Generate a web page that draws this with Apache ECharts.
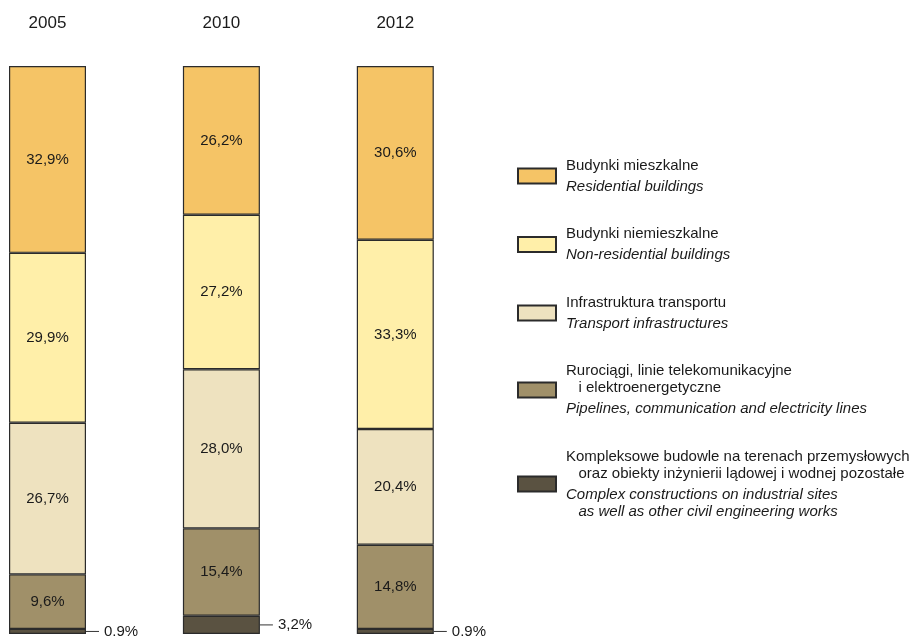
<!DOCTYPE html>
<html>
<head>
<meta charset="utf-8">
<script src="https://cdn.jsdelivr.net/npm/echarts@6/dist/echarts.min.js"></script>
<style>html,body{margin:0;padding:0;background:#fff;}#c{width:918px;height:637px;}</style>
</head>
<body>
<div id="c"></div>
<script>
var years = ['2005', '2010', '2012'];
var residential = [32.9, 26.2, 30.6];
var nonResidential = [29.9, 27.2, 33.3];
var transport = [26.7, 28.0, 20.4];
var pipelines = [9.6, 15.4, 14.8];
var complexWorks = [0.9, 3.2, 0.9];
var complexLabels = ['0.9%', '3,2%', '0.9%'];

var seriesNames = ['Budynki mieszkalne', 'Budynki niemieszkalne', 'Infrastruktura transportu', 'Rurociągi', 'Kompleksowe'];
var legendTexts = {
  'Budynki mieszkalne': '{pl|Budynki mieszkalne}\n{gap| }\n{en|Residential buildings}',
  'Budynki niemieszkalne': '{pl|Budynki niemieszkalne}\n{gap| }\n{en|Non-residential buildings}',
  'Infrastruktura transportu': '{pl|Infrastruktura transportu}\n{gap| }\n{en|Transport infrastructures}',
  'Rurociągi': '{pl|Rurociągi, linie telekomunikacyjne}\n{pl|   i elektroenergetyczne}\n{gap| }\n{en|Pipelines, communication and electricity lines}',
  'Kompleksowe': '{pl|Kompleksowe budowle na terenach przemysłowych}\n{pl|   oraz obiekty inżynierii lądowej i wodnej pozostałe}\n{gap| }\n{en|Complex constructions on industrial sites}\n{en|   as well as other civil engineering works}'
};
var colors = ['#F5C466', '#FFEFA9', '#EEE2BF', '#A09069', '#5A5241'];

var FONT = 'Liberation Sans, Arial, sans-serif';
var chart = echarts.init(document.getElementById('c'), null, {renderer: 'canvas'});

function inside(p) { return Number(p.value).toFixed(1).replace('.', ',') + '%'; }

function mk(name, data, color) {
  return {
    name: name, type: 'bar', stack: 'a', data: data, barWidth: 77, clip: false,
    itemStyle: {color: color, borderColor: '#2b2b2b', borderWidth: 1.2},
    label: {show: true, position: 'inside', fontFamily: FONT, fontSize: 15, color: '#1a1a1a', formatter: inside},
    emphasis: {disabled: true}
  };
}

var series = [
  {
    name: seriesNames[4], type: 'bar', stack: 'a', data: complexWorks, barWidth: 77, clip: false,
    itemStyle: {color: colors[4], borderColor: '#2b2b2b', borderWidth: 1.2},
    label: {
      show: true, position: 'right', distance: 0,
      formatter: function (p) { return '{ln|}{t|' + complexLabels[p.dataIndex] + '}'; },
      rich: {
        ln: {width: 13, height: 1, backgroundColor: '#333'},
        t: {fontFamily: FONT, fontSize: 15, color: '#1a1a1a', padding: [0, 0, 0, 5]}
      }
    },
    emphasis: {disabled: true}
  },
  mk(seriesNames[3], pipelines, colors[3]),
  mk(seriesNames[2], transport, colors[2]),
  mk(seriesNames[1], nonResidential, colors[1]),
  mk(seriesNames[0], residential, colors[0])
];

chart.setOption({
  animation: false,
  grid: {left: 47.5, width: 347.8, top: 66, bottom: 3},
  xAxis: {
    type: 'category', data: years, position: 'top', boundaryGap: false,
    axisLine: {show: false}, axisTick: {show: false}, splitLine: {show: false},
    axisLabel: {margin: 34, fontFamily: FONT, fontSize: 17, color: '#1a1a1a'}
  },
  yAxis: {type: 'value', min: 0, max: 100, show: false, splitLine: {show: false}},
  legend: {
    orient: 'vertical', left: 517, top: 158, itemWidth: 38, itemHeight: 15, itemGap: 32.5,
    padding: 0, icon: 'rect', selectedMode: false,
    data: seriesNames,
    formatter: function (n) { return legendTexts[n]; },
    textStyle: {
      padding: [0, 0, 0, 5],
      rich: {
        pl: {fontFamily: FONT, fontSize: 15, lineHeight: 17, color: '#1a1a1a'},
        en: {fontFamily: FONT, fontSize: 15, lineHeight: 17, color: '#1a1a1a', fontStyle: 'italic'},
        gap: {fontSize: 1, lineHeight: 4}
      }
    }
  },
  series: series
});
</script>
</body>
</html>
